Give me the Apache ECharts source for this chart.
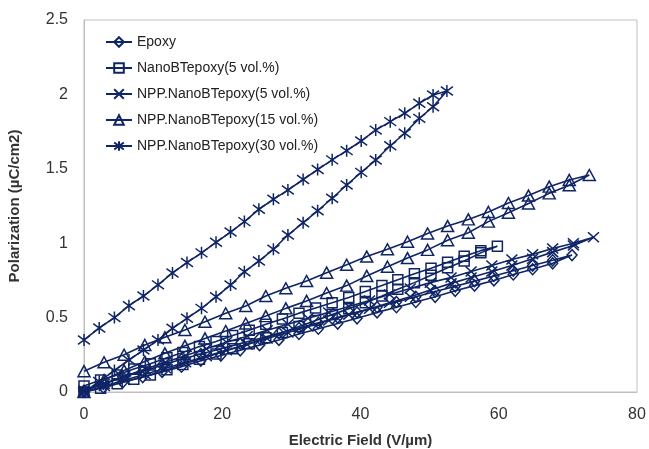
<!DOCTYPE html>
<html><head><meta charset="utf-8">
<script src="https://cdn.jsdelivr.net/npm/echarts@6/dist/echarts.min.js"></script>
<style>html,body{margin:0;padding:0;background:#fff}#c{width:649px;height:449px}</style>
</head><body><div id="c"></div>
<script>
var seriesNames = ['Epoxy','NanoBTepoxy(5 vol.%)','NPP.NanoBTepoxy(5 vol.%)','NPP.NanoBTepoxy(15 vol.%)','NPP.NanoBTepoxy(30 vol.%)'];
var xTicks = [0,20,40,60,80];
var yTicks = [0,0.5,1,1.5,2,2.5];

var epoxyX = [0,2.8,5.6,8.5,11.3,14.1,16.9,19.8,22.6,25.4,28.2,31.1,33.9,36.7,39.5,42.4,45.2,48.0,50.8,53.7,56.5,59.3,62.1,64.9,67.8,70.6];
var epoxyUp = [0.01,0.055,0.1,0.14,0.18,0.22,0.255,0.29,0.325,0.36,0.395,0.43,0.465,0.5,0.535,0.57,0.605,0.64,0.675,0.71,0.745,0.78,0.815,0.85,0.885,0.92];
var epoxyDown = [0.0,0.03,0.065,0.1,0.135,0.17,0.21,0.245,0.28,0.315,0.35,0.39,0.425,0.46,0.495,0.535,0.57,0.605,0.64,0.68,0.715,0.75,0.79,0.825,0.865,0.92];

var nbtX = [0,2.4,4.8,7.2,9.6,12.0,14.3,16.7,19.1,21.5,23.9,26.3,28.7,31.1,33.5,35.9,38.3,40.7,43.1,45.4,47.8,50.2,52.6,55.0,57.4,59.8];
var nbtUp = [0.04,0.08,0.115,0.155,0.19,0.23,0.265,0.305,0.34,0.38,0.415,0.455,0.49,0.53,0.565,0.6,0.635,0.675,0.715,0.755,0.795,0.832,0.872,0.912,0.95,0.98];
var nbtDown = [0.0,0.025,0.055,0.085,0.115,0.15,0.185,0.22,0.255,0.29,0.325,0.365,0.4,0.44,0.48,0.52,0.56,0.6,0.645,0.69,0.735,0.785,0.835,0.88,0.935,0.98];

var npp5X = [0,2.95,5.9,8.85,11.8,14.7,17.7,20.6,23.6,26.5,29.5,32.4,35.4,38.3,41.3,44.2,47.2,50.1,53.1,56.0,59.0,61.9,64.9,67.8,70.8,73.7];
var npp5Up = [0.01,0.055,0.105,0.155,0.2,0.245,0.29,0.335,0.375,0.415,0.455,0.495,0.535,0.575,0.615,0.655,0.695,0.735,0.77,0.81,0.85,0.89,0.925,0.965,1.0,1.04];
var npp5Down = [0.0,0.04,0.08,0.12,0.16,0.2,0.24,0.28,0.32,0.36,0.4,0.44,0.48,0.52,0.56,0.6,0.64,0.685,0.73,0.77,0.81,0.85,0.895,0.94,0.985,1.04];

var npp15X = [0,2.9,5.8,8.8,11.7,14.6,17.5,20.5,23.4,26.3,29.2,32.2,35.1,38.0,40.9,43.9,46.8,49.7,52.6,55.6,58.5,61.4,64.3,67.3,70.2,73.1];
var npp15Up = [0.14,0.2,0.25,0.316,0.368,0.417,0.472,0.529,0.578,0.645,0.697,0.746,0.802,0.855,0.91,0.959,1.01,1.065,1.115,1.16,1.21,1.27,1.32,1.38,1.425,1.458];
var npp15Down = [0.0,0.08,0.145,0.205,0.26,0.31,0.36,0.41,0.46,0.51,0.562,0.612,0.665,0.715,0.78,0.842,0.9,0.955,1.02,1.07,1.145,1.205,1.267,1.335,1.39,1.458];

var npp30X = [0,2.2,4.4,6.5,8.6,10.7,12.8,14.9,17.0,19.1,21.2,23.2,25.3,27.4,29.5,31.7,33.8,35.9,38.0,40.1,42.2,44.3,46.4,48.5,50.5,52.5];
var npp30Up = [0.35,0.43,0.5,0.58,0.645,0.72,0.8,0.87,0.935,1.006,1.075,1.145,1.228,1.295,1.357,1.428,1.495,1.56,1.622,1.687,1.76,1.817,1.873,1.94,1.996,2.023];
var npp30Down = [0.0,0.07,0.145,0.215,0.282,0.349,0.428,0.495,0.562,0.64,0.719,0.808,0.88,0.959,1.055,1.138,1.218,1.302,1.391,1.476,1.559,1.655,1.739,1.839,1.917,2.023];

function loop(xs, down, up){
  var d = [];
  for (var i=0;i<xs.length;i++) d.push([xs[i], down[i]]);
  for (var j=xs.length-2;j>=0;j--) d.push([xs[j], up[j]]);
  return d;
}
var navy = '#102566';
var symbols = [
  'diamond',
  'rect',
  'path://M0,0L10,10M10,0L0,10',
  'triangle',
  'path://M1,1L9,9M9,1L1,9M5,-0.5L5,10.5'
];
var sizes = [[10,11],10,[11,10],[12,11],[12,12]];
var datas = [
  loop(epoxyX, epoxyDown, epoxyUp),
  loop(nbtX, nbtDown, nbtUp),
  loop(npp5X, npp5Down, npp5Up),
  loop(npp15X, npp15Down, npp15Up),
  loop(npp30X, npp30Down, npp30Up)
];
var series = seriesNames.map(function(n,i){
  return {
    name:n, type:'line', data:datas[i], symbol:symbols[i], symbolSize:sizes[i],
    showAllSymbol:true, animation:false, color: navy,
    lineStyle:{color:navy,width:1.6},
    itemStyle:{color:'rgba(255,255,255,0)',borderColor:navy,borderWidth:1.5}
  };
});
var chart = echarts.init(document.getElementById('c'));
chart.setOption({
  backgroundColor:'#fff',
  animation:false,
  grid:{left:84,right:12,top:20,bottom:57,show:true,borderColor:'#bfbfbf',borderWidth:1,
    containLabel:false,outerBoundsMode:'none'},
  legend:{
    orient:'vertical', left:100, top:30, itemGap:12, itemWidth:26, itemHeight:12,
    data:seriesNames,
    textStyle:{fontFamily:'Liberation Sans, sans-serif',fontSize:14,color:'#222'}
  },
  xAxis:{type:'value',min:xTicks[0],max:xTicks[xTicks.length-1],interval:20,
    axisLine:{show:true,lineStyle:{color:'#bfbfbf'}},axisTick:{show:false},splitLine:{show:false},
    axisLabel:{fontFamily:'Liberation Sans, sans-serif',fontSize:16,color:'#333',margin:15},
    name:'Electric Field (V/µm)',nameLocation:'middle',nameGap:41,
    nameTextStyle:{fontFamily:'Liberation Sans, sans-serif',fontSize:15,fontWeight:'bold',color:'#333'}},
  yAxis:{type:'value',min:yTicks[0],max:yTicks[yTicks.length-1],interval:0.5,
    axisLine:{show:true,lineStyle:{color:'#bfbfbf'}},axisTick:{show:false},splitLine:{show:false},
    axisLabel:{fontFamily:'Liberation Sans, sans-serif',fontSize:16,color:'#333',margin:16},
    name:'Polarization (µC/cm2)',nameLocation:'middle',nameGap:62,
    nameTextStyle:{fontFamily:'Liberation Sans, sans-serif',fontSize:15,fontWeight:'bold',color:'#333'}},
  series:series
});
</script></body></html>
